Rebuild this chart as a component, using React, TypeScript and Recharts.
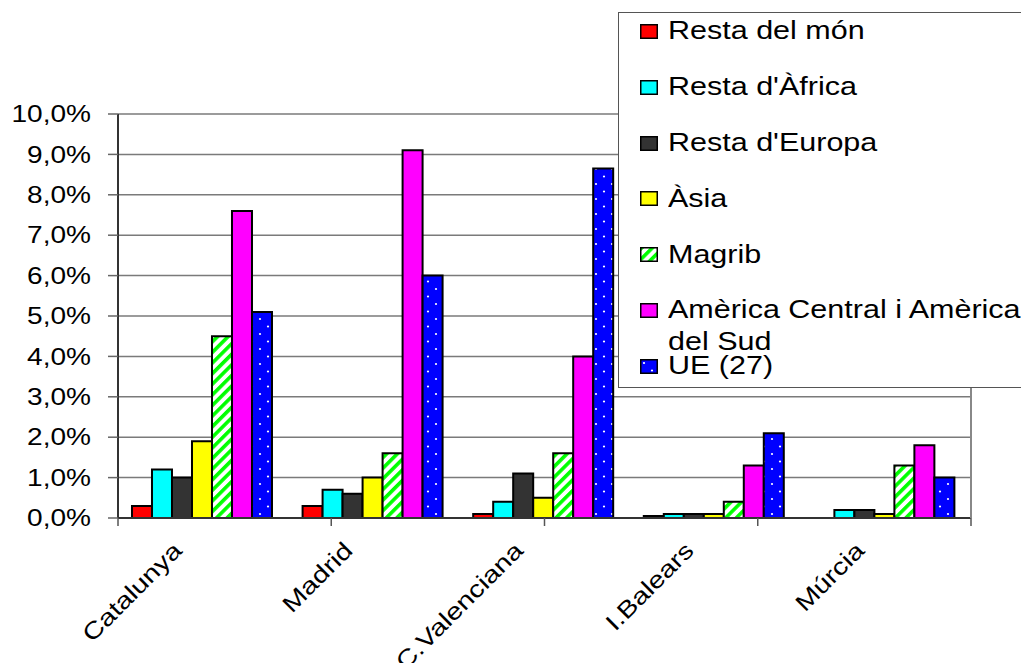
import React from 'react';
import { BarChart, Bar, XAxis, YAxis, CartesianGrid } from 'recharts';

const categories = ['Catalunya', 'Madrid', 'C.Valenciana', 'I.Balears', 'Múrcia'];
const restaDelMon = [0.3, 0.3, 0.1, 0.05, 0];
const restaAfrica = [1.2, 0.7, 0.4, 0.1, 0.2];
const restaEuropa = [1.0, 0.6, 1.1, 0.1, 0.2];
const asia = [1.9, 1.0, 0.5, 0.1, 0.1];
const magrib = [4.5, 1.6, 1.6, 0.4, 1.3];
const america = [7.6, 9.1, 4.0, 1.3, 1.8];
const ue27 = [5.1, 6.0, 8.65, 2.1, 1.0];
const yTicks = [0, 1, 2, 3, 4, 5, 6, 7, 8, 9, 10];

const seriesNames = [
  'Resta del món',
  "Resta d'Àfrica",
  "Resta d'Europa",
  'Àsia',
  'Magrib',
  'Amèrica Central i Amèrica del Sud',
  'UE (27)',
];
const seriesValues = [restaDelMon, restaAfrica, restaEuropa, asia, magrib, america, ue27];
const seriesFills = ['#ff0000', '#00ffff', '#333333', '#ffff00', 'url(#pMagrib)', '#ff00ff', 'url(#pUE)'];

const data = categories.map((c, i) => {
  const row: any = { name: c };
  seriesNames.forEach((s, k) => {
    row['s' + k] = seriesValues[k][i];
  });
  return row;
});

const edgeTicks = categories.map((_, i) => i).concat([categories.length]);

const FONT = '"Liberation Sans", Arial, sans-serif';
const SX = 1.22;

const YTick = (props: any) => {
  const { x, y, payload } = props;
  const label = payload.value.toFixed(1).replace('.', ',') + '%';
  return (
    <text
      transform={`translate(${x},${y}) scale(${SX},1)`}
      x={0}
      y={0}
      dy="0.36em"
      textAnchor="end"
      fontFamily={FONT}
      fontSize={23}
      fill="#000"
    >
      {label}
    </text>
  );
};

const XTick = (props: any) => {
  const { x, y, payload } = props;
  return (
    <text
      transform={`translate(${x - 20},${y + 33}) rotate(-45) scale(${SX},1)`}
      x={0}
      y={0}
      textAnchor="end"
      fontFamily={FONT}
      fontSize={23.5}
      fill="#000"
    >
      {payload.value}
    </text>
  );
};

const EmptyTick = () => <g />;

const Defs = () => (
  <svg width={0} height={0} style={{ position: 'absolute', left: 0, top: 0 }}>
    <defs>
      <pattern id="pMagrib" patternUnits="userSpaceOnUse" width={7.5} height={7.5} patternTransform="rotate(45)">
        <rect width={7.5} height={7.5} fill="#ffffff" />
        <rect width={3.6} height={7.5} fill="#00ff00" />
      </pattern>
      <pattern id="pUE" patternUnits="userSpaceOnUse" width={16} height={15}>
        <rect width={16} height={15} fill="#0000ff" />
        <circle cx={4} cy={4} r={1.1} fill="#ffffff" />
        <circle cx={12} cy={11.5} r={1.1} fill="#ffffff" />
      </pattern>
    </defs>
  </svg>
);

const LegendBox = () => (
  <div
    style={{
      position: 'absolute',
      left: 618,
      top: 12,
      width: 420,
      height: 376,
      border: '1.5px solid #555',
      boxSizing: 'border-box',
      background: '#fff',
    }}
  >
    {seriesNames.map((name, i) => {
      const baseline = 38 + 55.8 * i - 12;
      return (
        <React.Fragment key={name}>
          <svg
            width={18}
            height={15}
            style={{ position: 'absolute', left: 639 - 618, top: baseline - 15 }}
          >
            <rect x={0.75} y={0.75} width={16.5} height={13.5} fill={seriesFills[i]} stroke="#000" strokeWidth={1.5} />
          </svg>
          <div
            style={{
              position: 'absolute',
              left: 667 - 618,
              top: baseline - 24.7,
              width: 300,
              fontFamily: FONT,
              fontSize: 25,
              lineHeight: '32px',
              color: '#000',
              transform: `scaleX(${SX})`,
              transformOrigin: 'left top',
              whiteSpace: 'normal',
            }}
          >
            {name}
          </div>
        </React.Fragment>
      );
    })}
  </div>
);

export default function App() {
  return (
    <div
      style={{
        position: 'absolute',
        left: 0,
        top: 0,
        width: 1021,
        height: 663,
        overflow: 'hidden',
        background: '#fff',
      }}
    >
      <Defs />
      <BarChart
        width={1021}
        height={663}
        data={data}
        margin={{ top: 114, right: 49, bottom: 0, left: 0 }}
        barGap={0}
        barCategoryGap="8.2%"
      >
        <CartesianGrid vertical={false} stroke="#7a7a7a" strokeWidth={1.5} xAxisId="b" />
        <XAxis
          xAxisId="a"
          type="number"
          domain={[0, categories.length]}
          ticks={edgeTicks}
          allowDataOverflow
          height={1}
          tick={<EmptyTick />}
          tickSize={8}
          tickLine={{ stroke: '#555', strokeWidth: 1.5 }}
          axisLine={{ stroke: '#333', strokeWidth: 2 }}
        />
        <XAxis
          xAxisId="b"
          dataKey="name"
          height={144}
          axisLine={false}
          tickLine={false}
          tickSize={0}
          tickMargin={0}
          interval={0}
          tick={<XTick />}
        />
        <YAxis
          domain={[0, 10]}
          ticks={yTicks}
          width={118}
          tickSize={10}
          tickMargin={17}
          interval={0}
          tick={<YTick />}
          tickLine={{ stroke: '#666', strokeWidth: 1.5 }}
          axisLine={{ stroke: '#333', strokeWidth: 2 }}
        />
        <YAxis
          yAxisId="r"
          orientation="right"
          domain={[0, 10]}
          width={1}
          tick={false}
          tickLine={false}
          axisLine={{ stroke: '#888', strokeWidth: 2 }}
        />
        {seriesNames.map((name, k) => (
          <Bar
            key={name}
            xAxisId="b"
            dataKey={'s' + k}
            name={name}
            fill={seriesFills[k]}
            stroke="#000"
            strokeWidth={2}
            isAnimationActive={false}
          />
        ))}
      </BarChart>
      <LegendBox />
    </div>
  );
}
